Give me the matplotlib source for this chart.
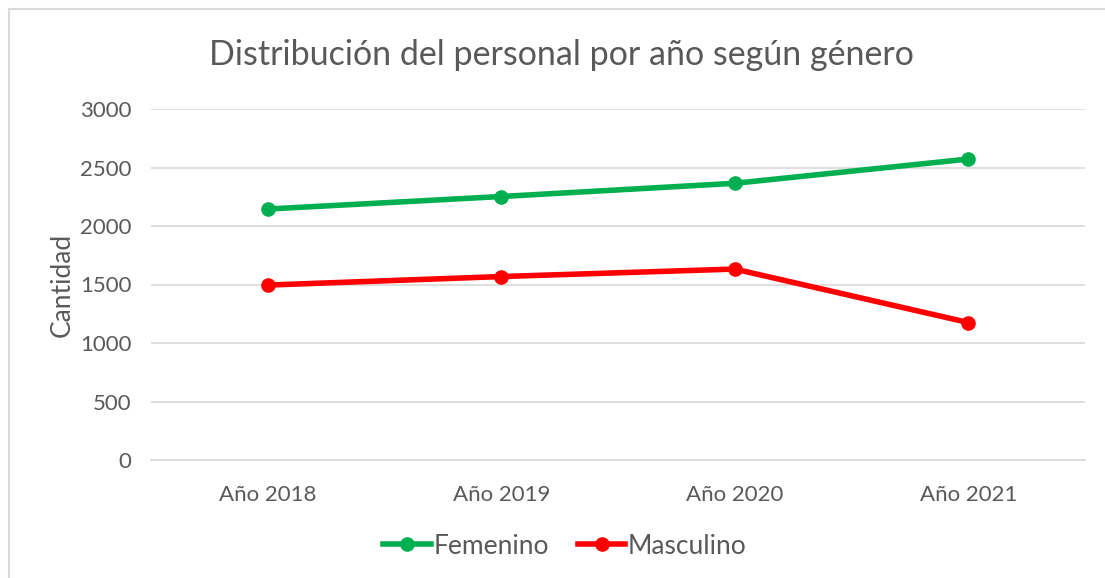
import matplotlib.pyplot as plt
from matplotlib.lines import Line2D

plt.rcParams['font.family'] = ['Lato', 'DejaVu Sans']

years = ["Año 2018", "Año 2019", "Año 2020", "Año 2021"]
femenino = [2145, 2252, 2365, 2572]
masculino = [1495, 1568, 1632, 1175]

text_color = "#595959"
grid_color = "#D9D9D9"

fig = plt.figure(figsize=(11.05, 5.78), dpi=100)
ax = fig.add_axes([151 / 1105, 1 - 460 / 578, 934 / 1105, 351 / 578])

x = range(len(years))
ax.plot(x, femenino, color="#00B050", lw=4, marker="o", ms=9.5, label="Femenino")
ax.plot(x, masculino, color="#FF0000", lw=4, marker="o", ms=9.5, label="Masculino")

ax.set_xlim(-0.5, 3.5)
ax.set_ylim(0, 3000)
ax.set_yticks(range(0, 3001, 500))
ax.set_xticks(list(x))
ax.set_xticklabels(years)
ax.grid(axis="y", color=grid_color, lw=1.2)
ax.set_axisbelow(True)
for s in ["top", "right", "left"]:
    ax.spines[s].set_visible(False)
ax.spines["bottom"].set_color(grid_color)
ax.spines["bottom"].set_linewidth(1.2)
ax.tick_params(length=0, labelsize=16, colors=text_color)
ax.tick_params(axis="x", pad=18)
ax.tick_params(axis="y", pad=14)
ax.set_ylabel("Cantidad", fontsize=19, color=text_color, labelpad=4)

fig.text(561 / 1105, 1 - 55 / 578, "Distribución del personal por año según género",
         fontsize=24.5, color=text_color, ha="center", va="center")

ax.legend(loc="center", bbox_to_anchor=(565 / 1105, 1 - 546 / 578),
          bbox_transform=fig.transFigure, ncol=2, frameon=False,
          fontsize=19, labelcolor=text_color, handlelength=1.8,
          handletextpad=0.1, columnspacing=1.1)

# chart border (only top and left visible in crop)
fig.add_artist(Line2D([9 / 1105, 9 / 1105], [0, 1 - 9 / 578], color=grid_color, lw=1.5))
fig.add_artist(Line2D([9 / 1105, 1], [1 - 9 / 578, 1 - 9 / 578], color=grid_color, lw=1.5))

plt.savefig("out.png", dpi=100)
